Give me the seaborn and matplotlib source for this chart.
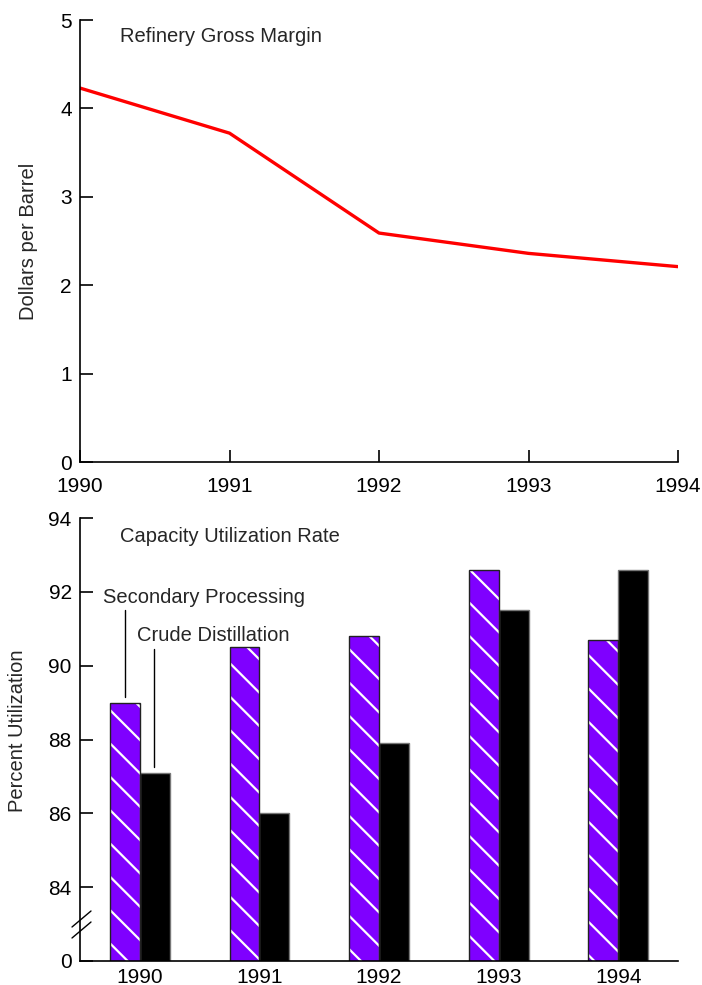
import matplotlib
matplotlib.use("Agg")
import matplotlib.pyplot as plt
import seaborn as sns
import pandas as pd
from matplotlib.patches import Rectangle

years = [1990, 1991, 1992, 1993, 1994]
gross_margin = [4.23, 3.72, 2.59, 2.36, 2.21]
secondary = [89.0, 90.5, 90.8, 92.6, 90.7]
crude = [87.1, 86.0, 87.9, 91.5, 92.6]
series_names = ["Secondary Processing", "Crude Distillation"]
colors = ["#7F00FF", "#000000"]

sns.set_theme(style="white")
plt.rcParams["font.family"] = ["Liberation Sans", "DejaVu Sans"]
plt.rcParams["hatch.linewidth"] = 1.6

TICKFONT = dict(family=["Liberation Sans Narrow", "Liberation Sans", "DejaVu Sans"], size=15)
TXT = 14.5

fig = plt.figure(figsize=(7.02, 9.85), dpi=100)
W, H = 702, 985
ax1 = fig.add_axes([80 / W, 1 - 462 / H, 598 / W, 442 / H])
ax2 = fig.add_axes([80 / W, 1 - 961 / H, 598 / W, 443 / H])

# ---- Top chart ----
df1 = pd.DataFrame({"year": years, "margin": gross_margin})
sns.lineplot(data=df1, x="year", y="margin", ax=ax1, color="#FF0000", lw=2.4)
ax1.set_xlim(1990, 1994)
ax1.set_ylim(0, 5)
ax1.set_xticks(years)
ax1.set_yticks([0, 1, 2, 3, 4, 5])
ax1.set_xticklabels([str(y) for y in years], fontdict=TICKFONT)
ax1.set_yticklabels([str(v) for v in range(6)], fontdict=TICKFONT)
ax1.set_xlabel("")
ax1.set_ylabel("Dollars per Barrel", fontsize=TXT)
ax1.yaxis.set_label_coords(-0.071, 0.5)
ax1.text((120 - 80) / 598, 1 - 16 / 442, "Refinery Gross Margin", transform=ax1.transAxes,
         fontsize=TXT, ha="left", va="center")
for s in ["top", "right"]:
    ax1.spines[s].set_visible(False)
for s in ["left", "bottom"]:
    ax1.spines[s].set_color("black")
    ax1.spines[s].set_linewidth(1.2)
ax1.tick_params(axis="both", direction="in", length=9, width=1.2, colors="black",
                left=True, bottom=True)
ax1.tick_params(axis="x", pad=11)
ax1.tick_params(axis="y", pad=6)

# ---- Bottom chart ----
df2 = pd.DataFrame({
    "year": [str(y) for y in years] * 2,
    "value": secondary + crude,
    "series": [series_names[0]] * 5 + [series_names[1]] * 5,
})
sns.barplot(data=df2, x="year", y="value", hue="series", palette=colors,
            width=0.5, ax=ax2, legend=False, saturation=1, gap=0)
ax2.set_xlim(-0.5, 4.5)
ax2.set_ylim(82, 94)
ax2.set_yticks([82, 84, 86, 88, 90, 92, 94])
ax2.set_yticklabels(["0", "84", "86", "88", "90", "92", "94"], fontdict=TICKFONT)
ax2.set_xticks(range(len(years)))
ax2.set_xticklabels([str(y) for y in years], fontdict=TICKFONT)
ax2.set_xlabel("")
ax2.set_ylabel("Percent Utilization", fontsize=TXT)
ax2.yaxis.set_label_coords(-0.089, 0.52)

n = len(years)
bars = ax2.patches[:2 * n]
for i, p in enumerate(bars):
    if i < n:
        p.set_hatch("\\")
        p.set_edgecolor("white")
        p.set_linewidth(0)
        outline = Rectangle(p.get_xy(), p.get_width(), p.get_height(), fill=False,
                            edgecolor="#222222", lw=1.0, zorder=p.get_zorder() + 0.1)
        ax2.add_patch(outline)
    else:
        p.set_edgecolor("#777777")
        p.set_linewidth(1.0)

for s in ["top", "right"]:
    ax2.spines[s].set_visible(False)
for s in ["left", "bottom"]:
    ax2.spines[s].set_color("black")
    ax2.spines[s].set_linewidth(1.2)
ax2.tick_params(axis="y", direction="in", length=9, width=1.2, colors="black", left=True, pad=6)
ax2.tick_params(axis="x", length=0, colors="black", pad=5)

ax2.text((120 - 80) / 598, 1 - 18 / 443, "Capacity Utilization Rate", transform=ax2.transAxes,
         fontsize=TXT, ha="left", va="center")

# Labels with leader lines
ax2.text(-0.31, 91.85, series_names[0], fontsize=TXT, ha="left", va="center")
ax2.plot([-0.125, -0.125], [91.5, secondary[0] + 0.15], color="black", lw=1)
ax2.text(-0.02, 90.82, series_names[1], fontsize=TXT, ha="left", va="center")
ax2.plot([0.115, 0.115], [90.45, crude[0] + 0.15], color="black", lw=1)

# axis break marks
for dy in (0, 11):
    ax2.plot([-8 / 598, 11 / 598], [(961 - 927 - dy) / 443, (961 - 911 - dy) / 443],
             transform=ax2.transAxes, color="black", lw=1, clip_on=False)

fig.savefig("out.png", dpi=100)
